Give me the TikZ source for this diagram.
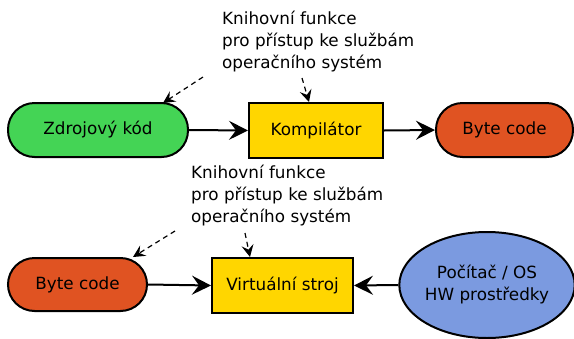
\documentclass[tikz,border=0pt]{standalone}
\usepackage{fontspec}
\setmainfont{DejaVu Sans}
\usetikzlibrary{arrows.meta,shapes.geometric}
\definecolor{cgreen}{RGB}{68,212,85}
\definecolor{corange}{RGB}{224,83,34}
\definecolor{cyellow}{RGB}{255,214,0}
\definecolor{cblue}{RGB}{123,154,224}
\begin{document}
\begin{tikzpicture}[x=1pt,y=-1pt,
  font=\fontsize{16.8}{22}\selectfont,
  base/.style={draw=black,line width=2pt,inner sep=0pt,text=black},
  pill/.style={base,rounded corners=26.5pt},
  boxnode/.style={base},
  caption/.style={inner sep=0pt,align=left,anchor=north west},
  conn/.style={line width=2pt,-{Stealth[length=19pt,width=19pt,inset=7pt]}},
  dconn/.style={line width=1.2pt,dash pattern=on 5pt off 4pt,-{Stealth[length=12pt,width=12pt,inset=4.5pt]}}]
\useasboundingbox (0,0) rectangle (574,338);
% top row
\node[pill,fill=cgreen,minimum width=180pt,minimum height=54pt] (src) at (98,130) {Zdrojový kód};
\node[boxnode,fill=cyellow,minimum width=134pt,minimum height=55pt] (comp) at (316,130.5) {Kompilátor};
\node[pill,fill=corange,minimum width=137pt,minimum height=54pt] (bc1) at (504.5,130) {Byte code};
\node[caption] (cap1) at (222,11) {Knihovní funkce\\pro přístup ke službám\\operačního systém};
\coordinate (d1a) at (203,77);
\coordinate (d1b) at (302,78);
\draw[conn] (src.east) -- (comp.west);
\draw[conn] (comp.east) -- (bc1.west);
\draw[dconn] (d1a) -- (163,103);
\draw[dconn] (d1b) -- (comp.north -| 309,0);
% bottom row
\node[pill,fill=corange,minimum width=139pt,minimum height=53pt] (bc2) at (77.5,284.5) {Byte code};
\node[boxnode,fill=cyellow,minimum width=141pt,minimum height=55pt] (vm) at (282.5,285.5) {Virtuální stroj};
\node[base,ellipse,fill=cblue,minimum width=174pt,minimum height=106pt,align=center] (pc) at (487,285) {Počítač / OS\\HW prostředky};
\node[caption] (cap2) at (191,165) {Knihovní funkce\\pro přístup ke službám\\operačního systém};
\coordinate (d2a) at (175,231);
\coordinate (d2b) at (245,233);
\draw[conn] (bc2.east) -- (vm.west);
\draw[conn] (pc.west) -- (vm.east);
\draw[dconn] (d2a) -- (133,257);
\draw[dconn] (d2b) -- (vm.north -| 250,0);
\end{tikzpicture}
\end{document}
